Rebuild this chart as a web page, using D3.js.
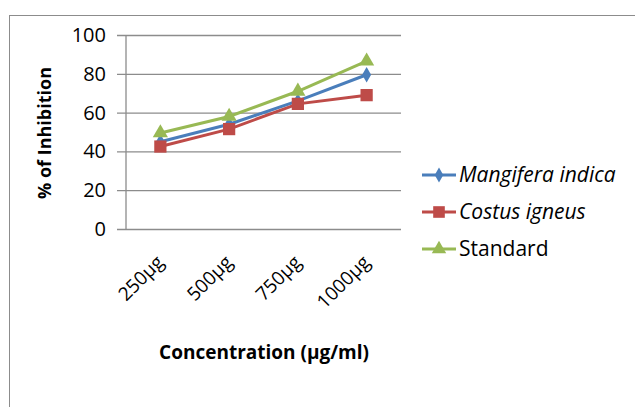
<!DOCTYPE html>
<html><head><meta charset="utf-8">
<script src="https://cdn.jsdelivr.net/npm/d3@7"></script>
<style>body{margin:0;background:#fff}svg{display:block}text{font-family:"Open Sans","Liberation Sans",sans-serif;fill:#000}</style>
</head><body>
<svg id="c" width="635" height="407"></svg>
<script>
const categories = ["250µg","500µg","750µg","1000µg"];
const mangifera = [45, 54, 66, 79.5];
const costus = [42.5, 51.5, 64.5, 69];
const standard = [49.5, 58, 71, 86.5];
const yTicks = [0,20,40,60,80,100];
const seriesNames = ["Mangifera indica","Costus igneus","Standard"];

const series = [
  {name: seriesNames[0], values: mangifera, color: "#4a7ebb", shape: d3.symbolDiamond, italic: true, size: 70},
  {name: seriesNames[1], values: costus, color: "#be4b48", shape: d3.symbolSquare, italic: true, size: 150},
  {name: seriesNames[2], values: standard, color: "#98b954", shape: d3.symbolTriangle, italic: false, size: 100}
];

const svg = d3.select("#c");
svg.append("rect").attr("x",9.5).attr("y",15.5).attr("width",700).attr("height",500)
  .attr("fill","none").attr("stroke","#8c8c8c").attr("stroke-width",1);

const pLeft = 126, pRight = 401, pTop = 35, pBottom = 229;
const x = d3.scaleBand().domain(categories).range([pLeft,pRight]);
const y = d3.scaleLinear().domain([0,100]).range([pBottom,pTop]);

// gridlines + y axis
const ya = svg.append("g").attr("transform",`translate(${pLeft},0)`)
  .call(d3.axisLeft(y).tickValues(yTicks).tickSize(-(pRight-pLeft)).tickPadding(20));
ya.select(".domain").remove();
ya.selectAll(".tick line").attr("stroke","#8c8c8c").attr("stroke-width",1.3).attr("x1",-9);
ya.selectAll(".tick text").attr("font-size",20).attr("font-family","Open Sans").attr("fill","#000");
svg.append("line").attr("x1",pLeft).attr("x2",pLeft).attr("y1",pTop).attr("y2",pBottom)
  .attr("stroke","#8c8c8c").attr("stroke-width",1.3);

// x tick labels
svg.selectAll(".xl").data(categories).enter().append("text")
  .attr("class","xl")
  .attr("transform",d=>`translate(${x(d)+x.bandwidth()/2-5},${pBottom+25}) rotate(-45)`)
  .attr("text-anchor","end").attr("dy","0.7em").attr("font-size",19).text(d=>d);

const line = d3.line().x((v,i)=>x(categories[i])+x.bandwidth()/2).y(v=>y(v));
series.forEach(s=>{
  svg.append("path").datum(s.values).attr("d",line).attr("fill","none")
    .attr("stroke",s.color).attr("stroke-width",3);
});
series.forEach(s=>{
  svg.selectAll(null).data(s.values).enter().append("path")
    .attr("d",d3.symbol().type(s.shape).size(s.size))
    .attr("transform",(v,i)=>`translate(${x(categories[i])+x.bandwidth()/2},${y(v)})`)
    .attr("fill",s.color);
});

// axis titles
svg.append("text").attr("transform","translate(51,133) rotate(-90)")
  .attr("text-anchor","middle").attr("font-size",18).attr("font-weight","bold").text("% of Inhibition");
svg.append("text").attr("x",264).attr("y",359)
  .attr("text-anchor","middle").attr("font-size",19).attr("font-weight","bold").text("Concentration (µg/ml)");

// legend
series.forEach((s,i)=>{
  const ly = 175 + i*37;
  svg.append("line").attr("x1",422).attr("x2",456).attr("y1",ly).attr("y2",ly).attr("stroke",s.color).attr("stroke-width",3);
  svg.append("path").attr("d",d3.symbol().type(s.shape).size(s.size*0.9)).attr("transform",`translate(439,${ly})`).attr("fill",s.color);
  svg.append("text").attr("x",459).attr("y",ly).attr("dy","0.35em").attr("font-size",21)
    .attr("font-style",s.italic?"italic":"normal").text(s.name);
});
</script>
</body></html>
